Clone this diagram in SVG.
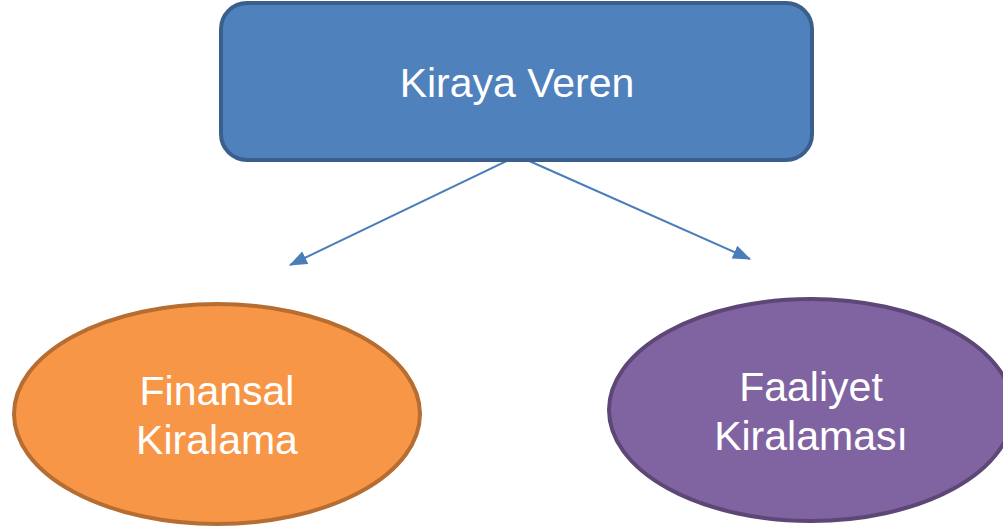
<svg xmlns="http://www.w3.org/2000/svg" width="1003" height="529" viewBox="0 0 1003 529">
<style>
.lbl{font-family:"Liberation Sans",Arial,sans-serif;font-size:41px;fill:#ffffff;text-anchor:middle}
.conn{stroke:#4a7ebb;stroke-width:2;fill:none}
</style>
<defs>
<marker id="ah" markerWidth="18" markerHeight="14" refX="17" refY="7" orient="auto" markerUnits="userSpaceOnUse">
<path d="M0,0 L18,7 L0,14 Z" fill="#4a7ebb"/>
</marker>
</defs>
<rect width="1003" height="529" fill="#ffffff"/>
<g id="connectors">
<line class="conn" x1="515" y1="157" x2="290" y2="265" marker-end="url(#ah)"/>
<line class="conn" x1="527" y1="160" x2="750" y2="259" marker-end="url(#ah)"/>
</g>
<g id="kiraya-veren">
<rect x="221" y="3" width="591" height="157" rx="26" ry="26" fill="#4f81bd" stroke="#3a5f8b" stroke-width="4"/>
<text class="lbl" x="517" y="97">Kiraya Veren</text>
</g>
<g id="finansal-kiralama">
<ellipse cx="217" cy="414" rx="203" ry="110" fill="#f79646" stroke="#b66d31" stroke-width="4"/>
<text class="lbl" x="217" y="405">Finansal</text>
<text class="lbl" x="217" y="454">Kiralama</text>
</g>
<g id="faaliyet-kiralamasi">
<ellipse cx="811" cy="410" rx="202" ry="111" fill="#8064a2" stroke="#5c4776" stroke-width="4"/>
<text class="lbl" x="811" y="401">Faaliyet</text>
<text class="lbl" x="811" y="450">Kiralaması</text>
</g>
</svg>
